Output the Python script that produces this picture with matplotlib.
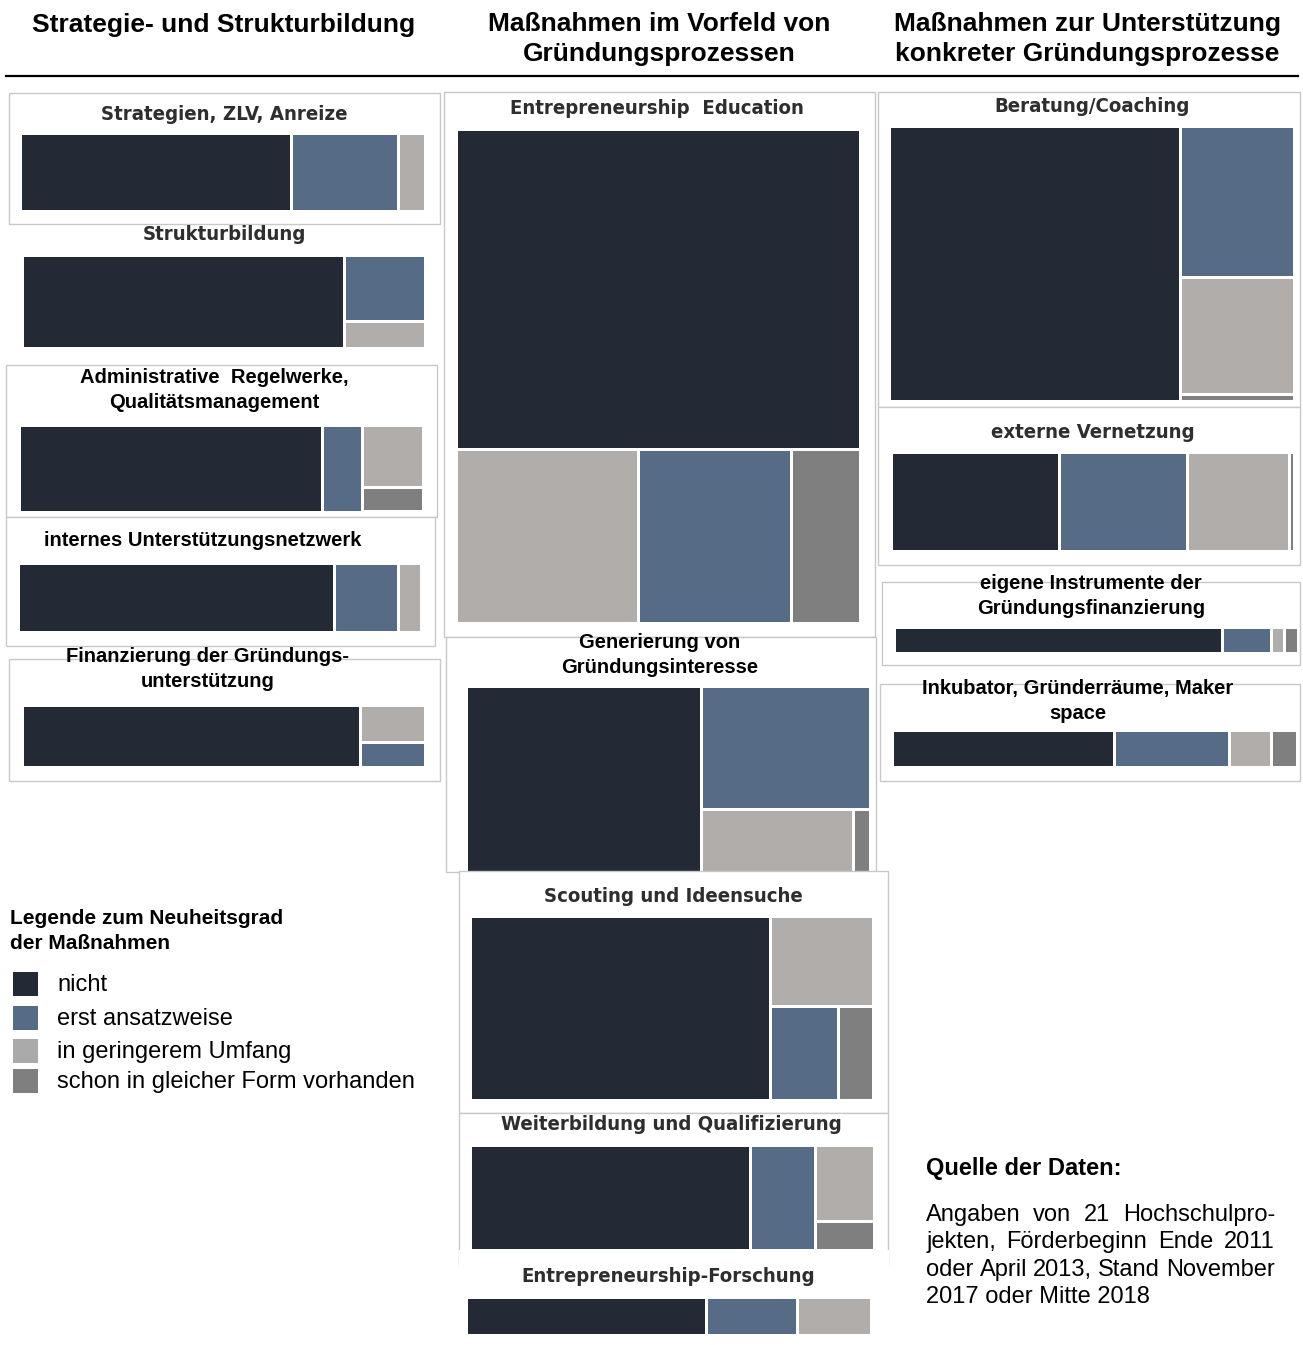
import matplotlib.pyplot as plt
from matplotlib.patches import Rectangle

# Kategorien (Neuheitsgrad) und Farben
categories = ['nicht', 'erst ansatzweise', 'in geringerem Umfang',
              'schon in gleicher Form vorhanden']
colors = ['#232935', '#566b86', '#b0adab', '#7f7f7f']
legend_colors = ['#232935', '#566b86', '#aaaaaa', '#7f7f7f']

headers = ['Strategie- und Strukturbildung',
           'Maßnahmen im Vorfeld von\nGründungsprozessen',
           'Maßnahmen zur Unterstützung\nkonkreter Gründungsprozesse']

# Anteile je Maßnahme: nicht, erst ansatzweise, in geringerem Umfang, schon vorhanden
strategien = [67, 26.5, 6.5, 0]
strukturbildung = [80, 14.4, 5.6, 0]
administrative = [75, 10, 10.7, 4.3]
internes_netzwerk = [78.5, 16, 5.5, 0]
finanzierung_unterst = [84, 6.3, 9.7, 0]
entre_education = [64.8, 13.3, 15.9, 6.0]
gruendungsinteresse = [58.2, 27.7, 12.7, 1.4]
scouting = [74.5, 8.6, 12.5, 4.4]
weiterbildung = [68.3, 15.8, 10.3, 3.8]
entre_forschung = [59, 22.5, 18, 0]
beratung = [72, 15.4, 11.9, 0.7]
ext_vernetzung = [40.7, 31, 24.6, 1.2]
eigene_instrumente = [80.5, 12, 3.1, 3.3]
inkubator = [54, 28, 10, 6.3]

source_lines = ['Angaben von 21 Hochschulpro-', 'jekten, Förderbeginn Ende 2011',
                'oder April 2013, Stand November', '2017 oder Mitte 2018']

# Panels: Titel, Werte, Fläche (x0, y0, x1, y1 in px), Aufteilung, Titelposition, Stil, Rahmen
panels = [
    ('Strategien, ZLV, Anreize', strategien, (20, 133, 425, 211), ('h', [0, 1, 2]),
     (224, 114), 'c', (9, 93, 440, 224)),
    ('Strukturbildung', strukturbildung, (22, 255, 425, 348), ('h', [0, ('v', [1, 2])]),
     (224, 234), 'c', None),
    ('Administrative  Regelwerke,\nQualitätsmanagement', administrative, (19, 425, 423, 512),
     ('h', [0, 1, ('v', [2, 3])]), (214, 390), 'a', (6, 365, 437, 517)),
    ('internes Unterstützungsnetzwerk', internes_netzwerk, (18, 563, 421, 632), ('h', [0, 1, 2]),
     (203, 540), 'a', (6, 517, 435, 646)),
    ('Finanzierung der Gründungs-\nunterstützung', finanzierung_unterst, (22, 705, 425, 767),
     ('h', [0, ('v', [2, 1])]), (208, 669), 'a', (9, 659, 440, 781)),
    ('Entrepreneurship  Education', entre_education, (456, 129, 860, 623),
     ('v', [0, ('h', [2, 1, 3])]), (657, 108), 'c', (444, 92, 875, 637)),
    ('Generierung von\nGründungsinteresse', gruendungsinteresse, (466, 686, 870, 872),
     ('h', [0, ('v', [1, ('h', [2, 3])])]), (660, 655), 'a', (446, 637, 876, 872)),
    ('Scouting und Ideensuche', scouting, (470, 916, 873, 1100),
     ('h', [0, ('v', [2, ('h', [1, 3])])]), (673, 896), 'c', (459, 871, 888, 1113)),
    ('Weiterbildung und Qualifizierung', weiterbildung, (470, 1145, 874, 1250),
     ('h', [0, 1, ('v', [2, 3])]), (671, 1125), 'c', (459, 1113, 888, 1265)),
    ('Entrepreneurship-Forschung', entre_forschung, (466, 1297, 871, 1335), ('h', [0, 1, 2]),
     (668, 1276), 'c', None),
    ('Beratung/Coaching', beratung, (889, 126, 1294, 401), ('h', [0, ('v', [1, 2, 3])]),
     (1092, 107), 'c', (878, 92, 1300, 407)),
    ('externe Vernetzung', ext_vernetzung, (891, 452, 1294, 551), ('h', [0, 1, 2, 3]),
     (1093, 432), 'c', (878, 407, 1300, 565)),
    ('eigene Instrumente der\nGründungsfinanzierung', eigene_instrumente, (894, 627, 1298, 653),
     ('h', [0, 1, 2, 3]), (1091, 596), 'a', (882, 582, 1300, 665)),
    ('Inkubator, Gründerräume, Maker\nspace', inkubator, (892, 730, 1297, 767),
     ('h', [0, 1, 2, 3]), (1078, 701), 'a', (880, 684, 1300, 781)),
]


def node_sum(node, vals):
    if isinstance(node, int):
        return vals[node]
    return sum(node_sum(c, vals) for c in node[1])


def place(node, vals, x0, y0, x1, y1, out):
    if isinstance(node, int):
        out.append((node, x0, y0, x1, y1))
        return
    orient, children = node
    tot = sum(node_sum(c, vals) for c in children)
    pos = x0 if orient == 'h' else y0
    for c in children:
        frac = node_sum(c, vals) / tot
        if orient == 'h':
            w = (x1 - x0) * frac
            place(c, vals, pos, y0, pos + w, y1, out)
            pos += w
        else:
            h = (y1 - y0) * frac
            place(c, vals, x0, pos, x1, pos + h, out)
            pos += h


fig = plt.figure(figsize=(13.03, 13.45), dpi=100)
ax = fig.add_axes([0, 0, 1, 1])
ax.set_xlim(0, 1303)
ax.set_ylim(1345, 0)
ax.axis('off')

# Spaltenköpfe
for x, h in zip([224, 659, 1087], headers):
    ax.text(x, 39 if '\n' in h else 25, h, ha='center', va='center', fontsize=19,
            fontweight='bold', family='Liberation Sans', linespacing=1.27)
ax.plot([6, 1298], [76, 76], color='black', lw=1.6)

for title, vals, area, spec, tpos, style, box in panels:
    if box is not None:
        ax.add_patch(Rectangle((box[0], box[1]), box[2] - box[0], box[3] - box[1],
                               facecolor='white', edgecolor='#c8c8c8', lw=1))
    if title.startswith('Entrepreneurship-'):
        # weißer Hintergrund überdeckt den unteren Rand des vorherigen Panels
        ax.add_patch(Rectangle((459, 1250), 430, 95, facecolor='white', edgecolor='none'))
    rects = []
    place(spec, vals, *area, rects)
    for idx, x0, y0, x1, y1 in rects:
        if vals[idx] <= 0:
            continue
        ax.add_patch(Rectangle((x0 + 1.5, y0 + 1.5), x1 - x0 - 3, y1 - y0 - 3,
                               facecolor=colors[idx], edgecolor='none'))
    if style == 'c':
        ax.text(tpos[0], tpos[1], title, ha='center', va='center', fontsize=14.6,
                fontweight='bold', family='DejaVu Sans', fontstretch='condensed',
                color='#2e2e2e')
    else:
        ax.text(tpos[0], tpos[1], title, ha='center', va='center', fontsize=14.5,
                fontweight='bold', family='Liberation Sans', linespacing=1.37)

# Legende
ax.text(10, 931, 'Legende zum Neuheitsgrad\nder Maßnahmen', ha='left', va='center',
        fontsize=15, fontweight='bold', family='Liberation Sans', linespacing=1.37)
for yc, lab, col in zip([984, 1018, 1051, 1081], categories, legend_colors):
    ax.add_patch(Rectangle((13, yc - 12), 25, 24, facecolor=col, edgecolor='none'))
    ax.text(57, yc + 1, lab, ha='left', va='center', fontsize=17, family='Liberation Sans')

# Quelle
ax.text(926, 1169, 'Quelle der Daten:', ha='left', va='center', fontsize=17,
        fontweight='bold', family='Liberation Sans')
renderer = fig.canvas.get_renderer()
line_width = 349
for i, (line, yc) in enumerate(zip(source_lines, [1214, 1241, 1269, 1296])):
    yb = yc + 7
    if i == len(source_lines) - 1:
        ax.text(926, yb, line, ha='left', va='baseline', fontsize=17, family='Liberation Sans')
        continue
    words = line.split()
    texts = [ax.text(0, yb, w, ha='left', va='baseline', fontsize=17,
                     family='Liberation Sans') for w in words]
    widths = [t.get_window_extent(renderer).width for t in texts]
    gap = (line_width - sum(widths)) / (len(words) - 1)
    x = 926
    for t, w in zip(texts, widths):
        t.set_x(x)
        x += w + gap

fig.savefig('out.png', dpi=100)
